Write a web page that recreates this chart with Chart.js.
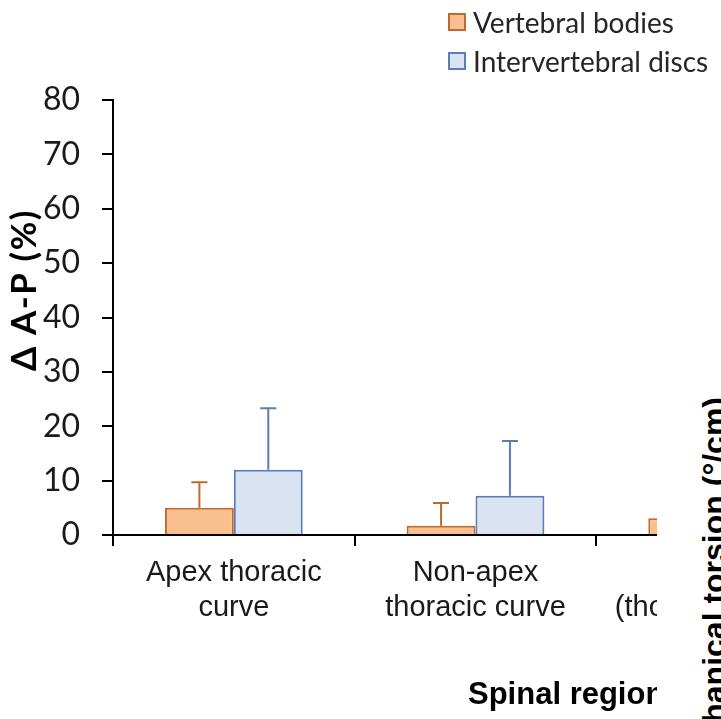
<!DOCTYPE html>
<html>
<head>
<meta charset="utf-8">
<script src="https://cdn.jsdelivr.net/npm/chart.js@4.4.1/dist/chart.umd.min.js"></script>
<style>
  html, body { margin: 0; padding: 0; background: #fff; }
  #wrap { position: relative; width: 721px; height: 719px; overflow: hidden; }
  #chart { position: absolute; left: 0; top: 0; }
  #legend { position: absolute; left: 448px; top: 2px; font-family: Lato, sans-serif; font-size: 28px; color: #262626; }
  #legend .item { display: flex; align-items: center; height: 39px; white-space: nowrap; }
  #legend .swatch { width: 14px; height: 14px; border: 2px solid; margin-right: 7px; }
  #cover { position: absolute; left: 657px; top: 85px; width: 64px; height: 634px; background: #fff; }
  #side-title { position: absolute; left: 698px; top: 397px; transform-origin: 0 0;
    transform: rotate(-90deg) translateX(-100%); font: bold 32px "Liberation Sans", Arial, sans-serif;
    line-height: 1; white-space: nowrap; color: #000; }
</style>
</head>
<body>
<div id="wrap">
  <canvas id="chart" width="850" height="719"></canvas>
  <div id="legend"></div>
  <div id="cover"></div>
  <div id="side-title">Biomechanical torsion (°/cm)</div>
</div>
<script>
// data
const categories = [["Apex thoracic", "curve"], ["Non-apex", "thoracic curve"], ["Junction", "(thoracolumbar)"]];
const vertebralBodies = [5.0, 1.7, 3.1];
const vertebralBodiesSD = [4.7, 4.2, null];
const intervertebralDiscs = [12.0, 7.2, null];
const intervertebralDiscsSD = [11.3, 10.1, null];
const yMin = 0, yMax = 80, yStep = 10;

const yTitle = "Δ A-P (%)";
const xTitle = "Spinal region";

// error bars (upper only), drawn with the y scale
const errorBars = {
  id: "errorBars",
  afterDatasetsDraw(chart) {
    const ctx = chart.ctx;
    const y = chart.scales.y;
    chart.data.datasets.forEach((ds, i) => {
      const meta = chart.getDatasetMeta(i);
      meta.data.forEach((bar, j) => {
        const v = ds.data[j], sd = ds.sd[j];
        if (v == null || sd == null) return;
        const top = y.getPixelForValue(v + sd);
        ctx.save();
        ctx.strokeStyle = ds.borderColor;
        ctx.lineWidth = 2;
        ctx.beginPath();
        ctx.moveTo(bar.x, bar.y);
        ctx.lineTo(bar.x, top);
        ctx.moveTo(bar.x - 8, top);
        ctx.lineTo(bar.x + 8, top);
        ctx.stroke();
        ctx.restore();
      });
    });
  }
};

// axis titles sit off-centre in the original, so place them by hand
const axisTitles = {
  id: "axisTitles",
  afterDraw(chart) {
    const ctx = chart.ctx;
    ctx.save();
    ctx.fillStyle = "#000";
    ctx.font = "bold 35px Lato";
    ctx.letterSpacing = "1.5px";
    ctx.textAlign = "center";
    ctx.textBaseline = "middle";
    ctx.translate(25, 290);
    ctx.rotate(-Math.PI / 2);
    ctx.fillText(yTitle, 0, 0);
    ctx.restore();

    ctx.save();
    ctx.fillStyle = "#000";
    ctx.font = "bold 31px 'Liberation Sans'";
    ctx.textAlign = "left";
    ctx.textBaseline = "middle";
    ctx.fillText(xTitle, 468, 695);
    ctx.restore();
  }
};

const data = {
  labels: categories,
  datasets: [
    {
      label: "Vertebral bodies",
      data: vertebralBodies,
      sd: vertebralBodiesSD,
      backgroundColor: "#F8C08F",
      borderColor: "#C0692E",
      borderWidth: 2,
    },
    {
      label: "Intervertebral discs",
      data: intervertebralDiscs,
      sd: intervertebralDiscsSD,
      backgroundColor: "#DAE3F2",
      borderColor: "#5B7DB5",
      borderWidth: 2,
    },
  ],
};

const config = {
  type: "bar",
  data: data,
  options: {
    responsive: false,
    animation: false,
    categoryPercentage: 0.57,
    barPercentage: 1.0,
    layout: { padding: { top: 100, right: 12, bottom: 0, left: 0 } },
    plugins: {
      legend: { display: false },
      tooltip: { enabled: false },
    },
    scales: {
      x: {
        afterFit(scale) { scale.height = 184; },
        grid: { drawOnChartArea: false, tickLength: 11, color: "#000", lineWidth: 2 },
        border: { color: "#000", width: 2 },
        ticks: {
          color: "#1a1a1a",
          font: { family: "'Liberation Sans'", size: 29, lineHeight: 1.2 },
          padding: 10,
          maxRotation: 0,
          autoSkip: false,
        },
      },
      y: {
        min: yMin,
        max: yMax,
        afterFit(scale) { scale.width = 113; },
        grid: { drawOnChartArea: false, tickLength: 11, color: "#000", lineWidth: 2 },
        border: { color: "#000", width: 2 },
        ticks: {
          stepSize: yStep,
          color: "#1a1a1a",
          font: { family: "Lato", size: 32 },
          padding: 22,
        },
      },
    },
  },
  plugins: [errorBars, axisTitles],
};

new Chart(document.getElementById("chart"), config);

// legend built from the datasets
const legend = document.getElementById("legend");
data.datasets.forEach((ds) => {
  const item = document.createElement("div");
  item.className = "item";
  const sw = document.createElement("span");
  sw.className = "swatch";
  sw.style.background = ds.backgroundColor;
  sw.style.borderColor = ds.borderColor;
  const txt = document.createElement("span");
  txt.textContent = ds.label;
  item.appendChild(sw);
  item.appendChild(txt);
  legend.appendChild(item);
});
</script>
</body>
</html>
